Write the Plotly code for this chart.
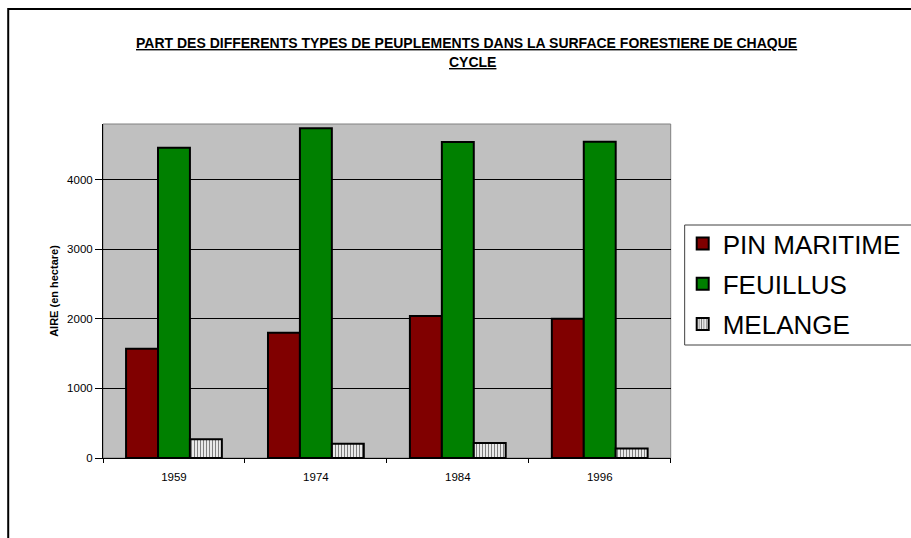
import plotly.graph_objects as go

years = ["1959", "1974", "1984", "1996"]
pin_maritime = [1570, 1800, 2040, 2000]
feuillus = [4460, 4740, 4540, 4545]
melange = [270, 205, 215, 135]
series_names = ["PIN MARITIME", "FEUILLUS", "MELANGE"]
y_ticks = [0, 1000, 2000, 3000, 4000]

W, H = 911, 538
L, R, T, B = 103, 239, 124, 80
PW, PH = W - L - R, H - T - B


def px(x):
    return (x - L) / PW


def py(y):
    return (H - B - y) / PH


fig = go.Figure()
fig.add_trace(go.Bar(x=years, y=pin_maritime, name=series_names[0], legendgroup="a",
                     marker=dict(color="#800000", line=dict(color="black", width=2))))
fig.add_trace(go.Bar(x=years, y=feuillus, name=series_names[1], legendgroup="b",
                     marker=dict(color="#008000", line=dict(color="black", width=2))))
fig.add_trace(go.Bar(x=years, y=melange, name=series_names[2], legendgroup="c",
                     marker=dict(color="white", line=dict(color="black", width=2),
                                 pattern=dict(shape="|", fgcolor="black", bgcolor="white",
                                              size=3, solidity=0.45))))

font_family = "Liberation Sans, Arial, sans-serif"

fig.update_layout(
    width=W, height=H,
    margin=dict(l=L, r=R, t=T, b=B, pad=0),
    paper_bgcolor="white",
    plot_bgcolor="#C0C0C0",
    barmode="group",
    bargap=0.325,
    bargroupgap=0,
    font=dict(family=font_family, color="black"),
    showlegend=True,
    legend=dict(xref="container", x=682.7 / W, y=py(220), xanchor="left", yanchor="top",
                bgcolor="rgba(0,0,0,0)", borderwidth=0,
                font=dict(size=26, family=font_family, color="black"),
                tracegroupgap=3.5, traceorder="grouped"),
    xaxis=dict(type="category", range=[-0.5, 3.5], showgrid=False,
               showline=True, linecolor="black", linewidth=1,
               ticks="outside", ticklen=4, tickcolor="black", tickson="boundaries",
               ticklabelstandoff=8,
               tickfont=dict(size=11.5, family=font_family, color="black")),
    yaxis=dict(range=[0, 4800], tickvals=y_ticks, showgrid=True, gridcolor="black",
               gridwidth=1, zeroline=False, showline=True, linecolor="black", linewidth=1,
               ticks="outside", ticklen=7, tickcolor="black",
               tickfont=dict(size=11.5, family=font_family, color="black"),
               title=dict(text="<b>AIRE (en hectare)</b>", standoff=6,
                          font=dict(size=11, family=font_family, color="black"))),
)

shapes = [
    # plot area frame
    dict(type="rect", xref="paper", yref="paper", x0=0, x1=1, y0=0, y1=1,
         line=dict(color="#808080", width=1), layer="below"),
    # outer chart border
    dict(type="rect", xref="paper", yref="paper", x0=px(8), x1=px(930), y0=py(9), y1=py(560),
         line=dict(color="black", width=2)),
    # legend box
    dict(type="rect", xref="paper", yref="paper", x0=px(686), x1=px(940), y0=py(225), y1=py(345),
         line=dict(color="#404040", width=1)),
]
fig.update_layout(shapes=shapes)

fig.add_annotation(text="<b><u>PART DES DIFFERENTS TYPES DE PEUPLEMENTS DANS LA SURFACE FORESTIERE DE CHAQUE</u></b>",
                   xref="paper", yref="paper", x=px(467), y=py(43), xanchor="center", yanchor="middle",
                   showarrow=False, font=dict(size=14, family=font_family, color="black"))
fig.add_annotation(text="<b><u>CYCLE</u></b>",
                   xref="paper", yref="paper", x=px(473), y=py(62), xanchor="center", yanchor="middle",
                   showarrow=False, font=dict(size=14, family=font_family, color="black"))

fig.write_html("out.html")
